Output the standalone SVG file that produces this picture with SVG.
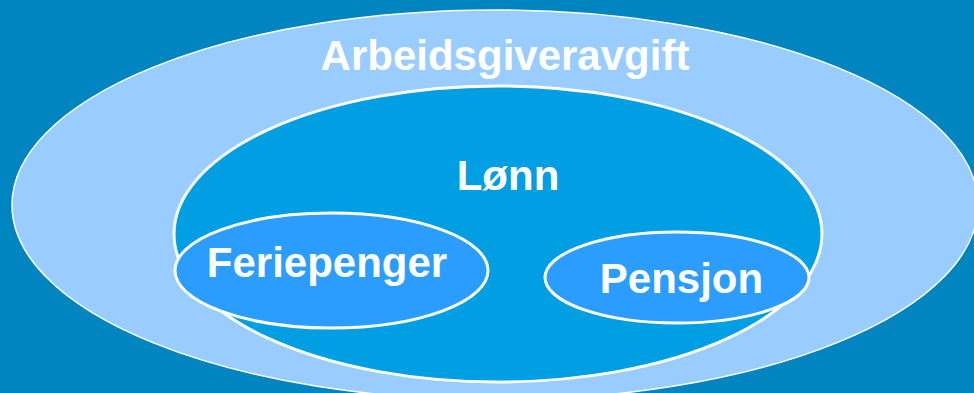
<svg xmlns="http://www.w3.org/2000/svg" width="974" height="393" viewBox="0 0 974 393">
<style>
.lbl{font-family:"Liberation Sans",Arial,sans-serif;font-weight:bold;font-size:42px;fill:#ffffff;text-anchor:middle}
.sub{fill:#2A9DFF;stroke:#ffffff;stroke-width:3}
</style>
<rect width="974" height="393" fill="#0085C0"/>
<g id="arbeidsgiveravgift">
<ellipse cx="495" cy="205" rx="483" ry="195" fill="#99CCFF" stroke="#ffffff" stroke-width="1.5"/>
<text class="lbl" x="505" y="70">Arbeidsgiveravgift</text>
</g>
<g id="lonn">
<ellipse cx="498" cy="234" rx="324" ry="148" fill="#009FE3" stroke="#ffffff" stroke-width="3"/>
<text class="lbl" x="508" y="190">Lønn</text>
</g>
<g id="feriepenger">
<ellipse class="sub" cx="331.5" cy="270.5" rx="156.5" ry="57.5"/>
<text class="lbl" x="327" y="277">Feriepenger</text>
</g>
<g id="pensjon">
<ellipse class="sub" cx="677" cy="277.5" rx="132" ry="45.5"/>
<text class="lbl" x="681.5" y="293">Pensjon</text>
</g>
<g id="connectors"></g>
</svg>
